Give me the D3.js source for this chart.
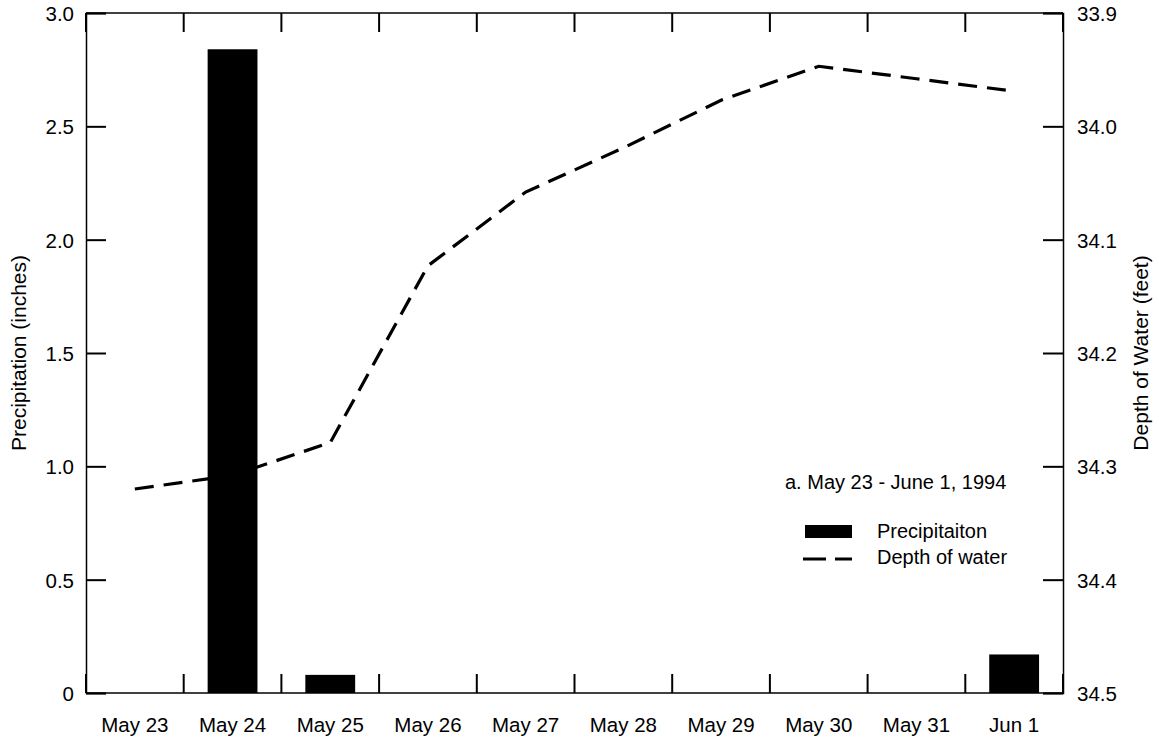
<!DOCTYPE html>
<html>
<head>
<meta charset="utf-8">
<script src="https://cdn.jsdelivr.net/npm/d3@7"></script>
<style>
  html, body { margin: 0; padding: 0; background: #fff; }
  svg { display: block; }
  text { font-family: "Liberation Sans", Arial, Helvetica, sans-serif; fill: #000; }
</style>
</head>
<body>
<svg id="chart" width="1159" height="740"></svg>
<script>
// Daily readings, May 23 - June 1, 1994
const days = ["May 23", "May 24", "May 25", "May 26", "May 27", "May 28", "May 29", "May 30", "May 31", "Jun 1"];
const precipitation = [0, 2.84, 0.08, 0, 0, 0, 0, 0, 0, 0.17];   // inches
const depthOfWater = [34.32, 34.308, 34.279, 34.123, 34.058, 34.019, 33.977, 33.947, 33.958, 33.969]; // feet
const precipTicks = [0, 0.5, 1.0, 1.5, 2.0, 2.5, 3.0];
const depthTicks = [33.9, 34.0, 34.1, 34.2, 34.3, 34.4, 34.5];

const W = 1159, H = 740;
const margin = { top: 13, right: 96, bottom: 47, left: 86 };
const x0 = margin.left, x1 = W - margin.right;
const y0 = H - margin.bottom, y1 = margin.top;
const FONT = 20.5;
const TITLE_FONT = 21;
const LEGEND_FONT = 20;
const TICK = 20;

const svg = d3.select("#chart");

const x = d3.scaleBand().domain(days).range([x0, x1]).paddingInner(0.49).paddingOuter(0.245);
const yP = d3.scaleLinear().domain([0, 3]).range([y0, y1]);
const yD = d3.scaleLinear().domain([33.9, 34.5]).range([y1, y0]); // depth increases downward

// Bars
svg.append("g").selectAll("rect")
  .data(days.map((d, i) => ({ day: d, v: precipitation[i] })).filter(d => d.v > 0))
  .join("rect")
  .attr("x", d => x(d.day))
  .attr("width", x.bandwidth())
  .attr("y", d => yP(d.v))
  .attr("height", d => yP(0) - yP(d.v))
  .attr("fill", "#000");

// Depth of water line
const line = d3.line()
  .x((d, i) => x(days[i]) + x.bandwidth() / 2)
  .y(d => yD(d));
svg.append("path")
  .datum(depthOfWater)
  .attr("d", line)
  .attr("fill", "none")
  .attr("stroke", "#000")
  .attr("stroke-width", 3.2)
  .attr("stroke-dasharray", "19,10");

// Frame
const frame = svg.append("g").attr("stroke", "#000").attr("stroke-width", 1.5).attr("fill", "none");
frame.append("line").attr("x1", x0).attr("x2", x1).attr("y1", y1).attr("y2", y1);
frame.append("line").attr("x1", x0).attr("x2", x1).attr("y1", y0).attr("y2", y0);

// Left axis: precipitation
const leftAxis = svg.append("g")
  .attr("transform", `translate(${x0},0)`)
  .call(d3.axisLeft(yP).tickValues(precipTicks).tickSize(-TICK).tickPadding(12)
    .tickFormat(d => d === 0 ? "0" : d3.format(".1f")(d)));

// Right axis: depth of water
const rightAxis = svg.append("g")
  .attr("transform", `translate(${x1},0)`)
  .call(d3.axisRight(yD).tickValues(depthTicks).tickSize(-TICK).tickPadding(14)
    .tickFormat(d3.format(".1f")));

[leftAxis, rightAxis].forEach(g => {
  g.attr("font-family", null).attr("font-size", null);
  g.select(".domain").attr("stroke-width", 1.5);
  g.selectAll(".tick line").attr("stroke-width", 2);
  g.selectAll(".tick text").attr("font-size", FONT).attr("dy", "0.36em");
});

// Day separators along top and bottom edges
const bounds = days.map(d => x(d) - (x.step() - x.bandwidth()) / 2).concat([x1]);
const sep = svg.append("g").attr("stroke", "#000").attr("stroke-width", 2);
sep.selectAll("line.top").data(bounds).join("line").attr("class", "top")
  .attr("x1", d => d).attr("x2", d => d).attr("y1", y1).attr("y2", y1 + 19);
sep.selectAll("line.bot").data(bounds).join("line").attr("class", "bot")
  .attr("x1", d => d).attr("x2", d => d).attr("y1", y0 - 19).attr("y2", y0);

// Day labels
svg.append("g").selectAll("text").data(days).join("text")
  .attr("x", d => x(d) + x.bandwidth() / 2)
  .attr("y", 731.5)
  .attr("text-anchor", "middle")
  .attr("font-size", FONT)
  .text(d => d);

// Axis titles
svg.append("text")
  .attr("transform", `translate(26,${(y0 + y1) / 2}) rotate(-90)`)
  .attr("text-anchor", "middle")
  .attr("font-size", TITLE_FONT)
  .text("Precipitation (inches)");
svg.append("text")
  .attr("transform", `translate(1148,${(y0 + y1) / 2}) rotate(-90)`)
  .attr("text-anchor", "middle")
  .attr("font-size", TITLE_FONT)
  .text("Depth of Water (feet)");

// Legend
const lg = svg.append("g");
lg.append("text").attr("x", 785).attr("y", 489).attr("font-size", LEGEND_FONT).text("a. May 23 - June 1, 1994");
lg.append("rect").attr("x", 805).attr("y", 525).attr("width", 47).attr("height", 13).attr("fill", "#000");
lg.append("text").attr("x", 877).attr("y", 537.5).attr("font-size", LEGEND_FONT).text("Precipitaiton");
lg.append("line").attr("x1", 803).attr("x2", 852).attr("y1", 559).attr("y2", 559)
  .attr("stroke", "#000").attr("stroke-width", 3.2).attr("stroke-dasharray", "23,9");
lg.append("text").attr("x", 877).attr("y", 563.5).attr("font-size", LEGEND_FONT).text("Depth of water");
</script>
</body>
</html>
